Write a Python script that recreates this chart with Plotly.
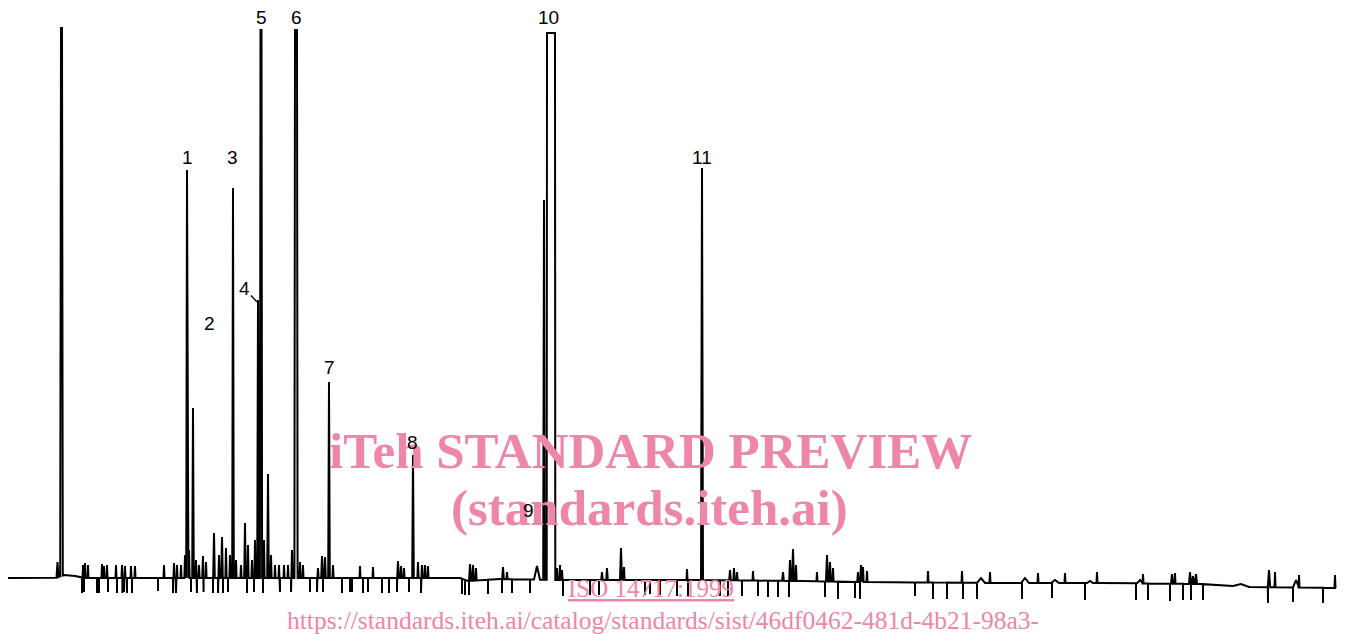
import numpy as np
import plotly.graph_objects as go

# ---------------- data (retention time in min, detector signal in arbitrary units) -------------
# baseline knots
base_rt = [0.40, 2.80, 3.20, 3.75, 4.25, 8.00, 23.00, 23.40, 25.00, 28.00, 35.00, 40.00,
           43.00, 50.00, 55.00, 60.00, 62.50, 66.80]
base_sig = [0, 0, 3, 2, 0, 0, 0, -3, -1, -2, -2, -3, -4, -5, -5, -6, -9, -10]

# chromatographic peaks: retention time, apex signal, half width, flat-top half width
peak_rt = [2.875, 3.075,
           4.15, 4.25, 4.40, 5.10, 5.20, 5.35, 5.80, 6.10, 6.25, 6.55, 6.75, 8.20, 8.70, 8.85, 9.05,
           9.25, 9.35, 9.45, 9.65, 9.80, 9.95, 10.15, 10.30, 10.70, 10.95, 11.10, 11.30, 11.50,
           11.65, 11.80, 12.05, 12.25, 12.40, 12.60, 12.75, 12.90, 13.05, 13.20, 13.40, 13.55,
           13.75, 13.95, 14.20, 14.40, 14.60, 14.80, 15.00, 15.15, 15.90, 16.10, 16.25, 16.45,
           16.65, 18.00, 18.65, 19.90, 20.05, 20.20, 20.65, 20.90, 21.10, 21.25, 21.40, 23.50,
           23.65, 23.80, 25.15, 25.35, 26.85, 27.20, 27.55, 27.85, 28.00, 28.10, 30.10, 30.35,
           31.05, 31.20, 34.35, 35.10, 36.50, 36.70, 36.85, 37.65, 39.15, 39.50, 39.65, 39.80,
           40.85, 41.35, 41.50, 41.65, 42.90, 43.05, 43.15, 43.35, 46.40, 48.10, 49.05, 49.50,
           51.25, 51.90, 52.75, 53.25, 54.50, 54.85, 57.00, 57.15, 58.60, 58.75, 59.50, 59.65,
           59.80, 62.05, 63.45, 63.75, 64.80, 64.95, 66.75]
peak_top = [16, 550,
            13, 15, 13, 14, 12, 13, 13, 13, 12, 12, 12, 13, 15, 13, 13,
            23, 408, 28, 170, 18, 13, 22, 16, 45, 23, 41, 30, 23,
            390, 18, 13, 55, 33, 18, 38, 278, 548, 38, 104, 23,
            13, 13, 13, 13, 28, 548, 16, 13, 10, 22, 21, 196,
            13, 12, 11, 17, 12, 10, 123, 16, 13, 13, 12, 14,
            13, 10, 11, 6, 12, 378, 545, 10, 13, 8, 6, 10,
            30, 11, 9, 410, 8, 10, 6, 7, 6, 18, 29, 13,
            6, 23, 16, 10, 6, 13, 11, 7, 7, 7, 0, 6,
            0, 5, -2, 5, -3, 6, -2, 4, 4, 5, 6, 2,
            4, -6, 8, 6, -2, 3, 3]
peak_hw = [0.05, 0.04,
           0.025, 0.025, 0.025, 0.025, 0.025, 0.025, 0.025, 0.025, 0.025, 0.025, 0.025, 0.025, 0.025, 0.025, 0.025,
           0.03, 0.04, 0.03, 0.04, 0.03, 0.03, 0.04, 0.03, 0.04, 0.03, 0.04, 0.03, 0.03,
           0.04, 0.03, 0.03, 0.04, 0.03, 0.03, 0.03, 0.04, 0.03, 0.03, 0.04, 0.03,
           0.025, 0.025, 0.025, 0.025, 0.03, 0.03, 0.03, 0.025, 0.03, 0.04, 0.04, 0.04,
           0.03, 0.025, 0.025, 0.04, 0.03, 0.03, 0.04, 0.03, 0.03, 0.03, 0.025, 0.05,
           0.04, 0.03, 0.04, 0.03, 0.15, 0.04, 0.015, 0.03, 0.03, 0.03, 0.04, 0.04,
           0.05, 0.03, 0.025, 0.05, 0.04, 0.03, 0.03, 0.025, 0.04, 0.04, 0.05, 0.03,
           0.025, 0.05, 0.04, 0.03, 0.04, 0.04, 0.03, 0.025, 0.025, 0.025, 0.20, 0.025,
           0.20, 0.025, 0.20, 0.025, 0.15, 0.025, 0.15, 0.025, 0.05, 0.025, 0.05, 0.05,
           0.05, 0.40, 0.06, 0.025, 0.15, 0.025, 0.025]
peak_flat = {3.075: 0.025, 13.05: 0.025, 14.80: 0.05, 27.55: 0.20}

# integrator event marks (downward ticks): time and lowest signal
tick_rt = [4.10, 4.20, 4.85, 4.95, 5.40, 5.85, 6.12, 6.20, 6.35, 6.60, 7.90, 8.65, 8.80, 9.55,
           9.85, 10.18, 10.65, 10.90, 11.15, 11.40, 12.35, 12.70, 13.15, 14.00, 14.55, 15.50,
           15.85, 16.15, 17.10, 17.50, 17.60, 18.15, 18.40, 19.10, 19.45, 19.85, 20.45, 21.05,
           23.10, 23.25, 23.45, 24.40, 25.10, 25.60, 26.50, 28.15, 29.50, 29.95, 32.25, 32.50,
           33.00, 33.85, 34.40, 36.00, 36.40, 37.10, 37.90, 38.40, 38.90, 39.45, 41.25, 41.90,
           42.75, 43.00, 45.75, 46.65, 47.35, 48.15, 48.85, 51.10, 52.60, 54.25, 56.80, 57.40,
           58.50, 59.15, 59.55, 60.15, 63.40, 64.65, 66.15]
tick_low = [-15, -14, -15, -15, -14, -15, -15, -14, -15, -15, -13, -15, -15, -14,
            -15, -14, -15, -15, -15, -14, -15, -14, -15, -14, -14, -14,
            -14, -14, -15, -14, -14, -15, -14, -15, -15, -14, -14, -15,
            -16, -17, -17, -16, -15, -15, -15, -18, -17, -17, -17, -16,
            -17, -18, -18, -18, -18, -18, -18, -19, -19, -19, -19, -21,
            -20, -21, -18, -21, -21, -21, -21, -21, -20, -22, -22, -22,
            -23, -22, -22, -22, -25, -24, -25]

# peak labels: number and the peak (retention time) they belong to
label_text = ["1", "2", "3", "4", "5", "6", "7", "8", "9", "10", "11"]
label_rt = [9.35, 9.65, 11.65, 12.90, 13.05, 14.80, 16.45, 20.65, 26.85, 27.55, 35.10]

# ---------------- build the trace -------------
def base(t):
    return float(np.interp(t, base_rt, base_sig))

events = []
for t, s in zip(base_rt, base_sig):
    events.append((t, "b", s, 0.0, 0.0))
for t, s, hw in zip(peak_rt, peak_top, peak_hw):
    events.append((t, "p", s, hw, peak_flat.get(t, 0.0)))
for t, s in zip(tick_rt, tick_low):
    events.append((t, "t", s, 0.0, 0.0))
events.sort(key=lambda e: e[0])

xs, ys = [], []
for t, kind, s, hw, fl in events:
    if kind == "b":
        xs.append(t); ys.append(s)
    elif kind == "p":
        l, r = t - fl - hw, t + fl + hw
        xs += [l, t - fl, t + fl, r]
        ys += [base(l), s, s, base(r)]
    else:
        b = base(t)
        xs += [t, t, t]
        ys += [b, s, b]

fig = go.Figure()
fig.add_trace(go.Scatter(x=xs, y=ys, mode="lines",
                         line=dict(color="black", width=2), hoverinfo="skip",
                         showlegend=False))

# watermark (drawn first so peak numbers stay on top)
pink = "#EE86A7"
wm_bold = dict(family="Liberation Serif, Times New Roman, serif", size=51, color=pink)
wm_reg = dict(family="Liberation Serif, Times New Roman, serif", size=25, color=pink)
fig.add_annotation(xref="paper", yref="paper", x=0.4826, y=0.241,
                   text="<b>iTeh STANDARD PREVIEW</b>", showarrow=False, font=wm_bold)
fig.add_annotation(xref="paper", yref="paper", x=0.482, y=0.152,
                   text="<b>(standards.iteh.ai)</b>", showarrow=False, font=wm_bold)
fig.add_annotation(xref="paper", yref="paper", x=0.4826, y=0.048,
                   text="<u>ISO 14717:1999</u>", showarrow=False, font=wm_reg)
fig.add_annotation(xref="paper", yref="paper", x=0.492, y=-0.004,
                   text="https://standards.iteh.ai/catalog/standards/sist/46df0462-481d-4b21-98a3-",
                   showarrow=False, font=dict(wm_reg, size=25.5))

# label placement offsets (px)
label_shift = {"1": (0, 13), "2": (16, 85), "3": (-1, 31), "5": (0, 13), "6": (0, 13),
               "7": (0, 15), "8": (-1, 13), "9": (-9, 56), "10": (-3, 16), "11": (0, 11)}
apex = dict(zip(peak_rt, peak_top))
lab_font = dict(family="Liberation Sans, Arial, sans-serif", size=19, color="black")
for txt, t in zip(label_text, label_rt):
    if txt == "4":
        fig.add_annotation(x=t - 0.05, y=apex[t] - 2, text=txt, showarrow=True,
                           ax=-13, ay=-14, arrowhead=0, arrowwidth=1.3,
                           arrowcolor="black", standoff=0, font=lab_font)
    else:
        dx, dy = label_shift[txt]
        fig.add_annotation(x=t, y=apex[t], text=txt, showarrow=False,
                           xshift=dx, yshift=dy, font=lab_font)

fig.update_layout(width=1348, height=634, margin=dict(l=0, r=0, t=0, b=0),
                  paper_bgcolor="white", plot_bgcolor="white",
                  xaxis=dict(range=[0, 67.4], visible=False, showgrid=False, zeroline=False),
                  yaxis=dict(range=[-56, 578], visible=False, showgrid=False, zeroline=False))

fig.write_html("out.html", config={"displayModeBar": False},
               post_script="document.body.style.margin='0';")
